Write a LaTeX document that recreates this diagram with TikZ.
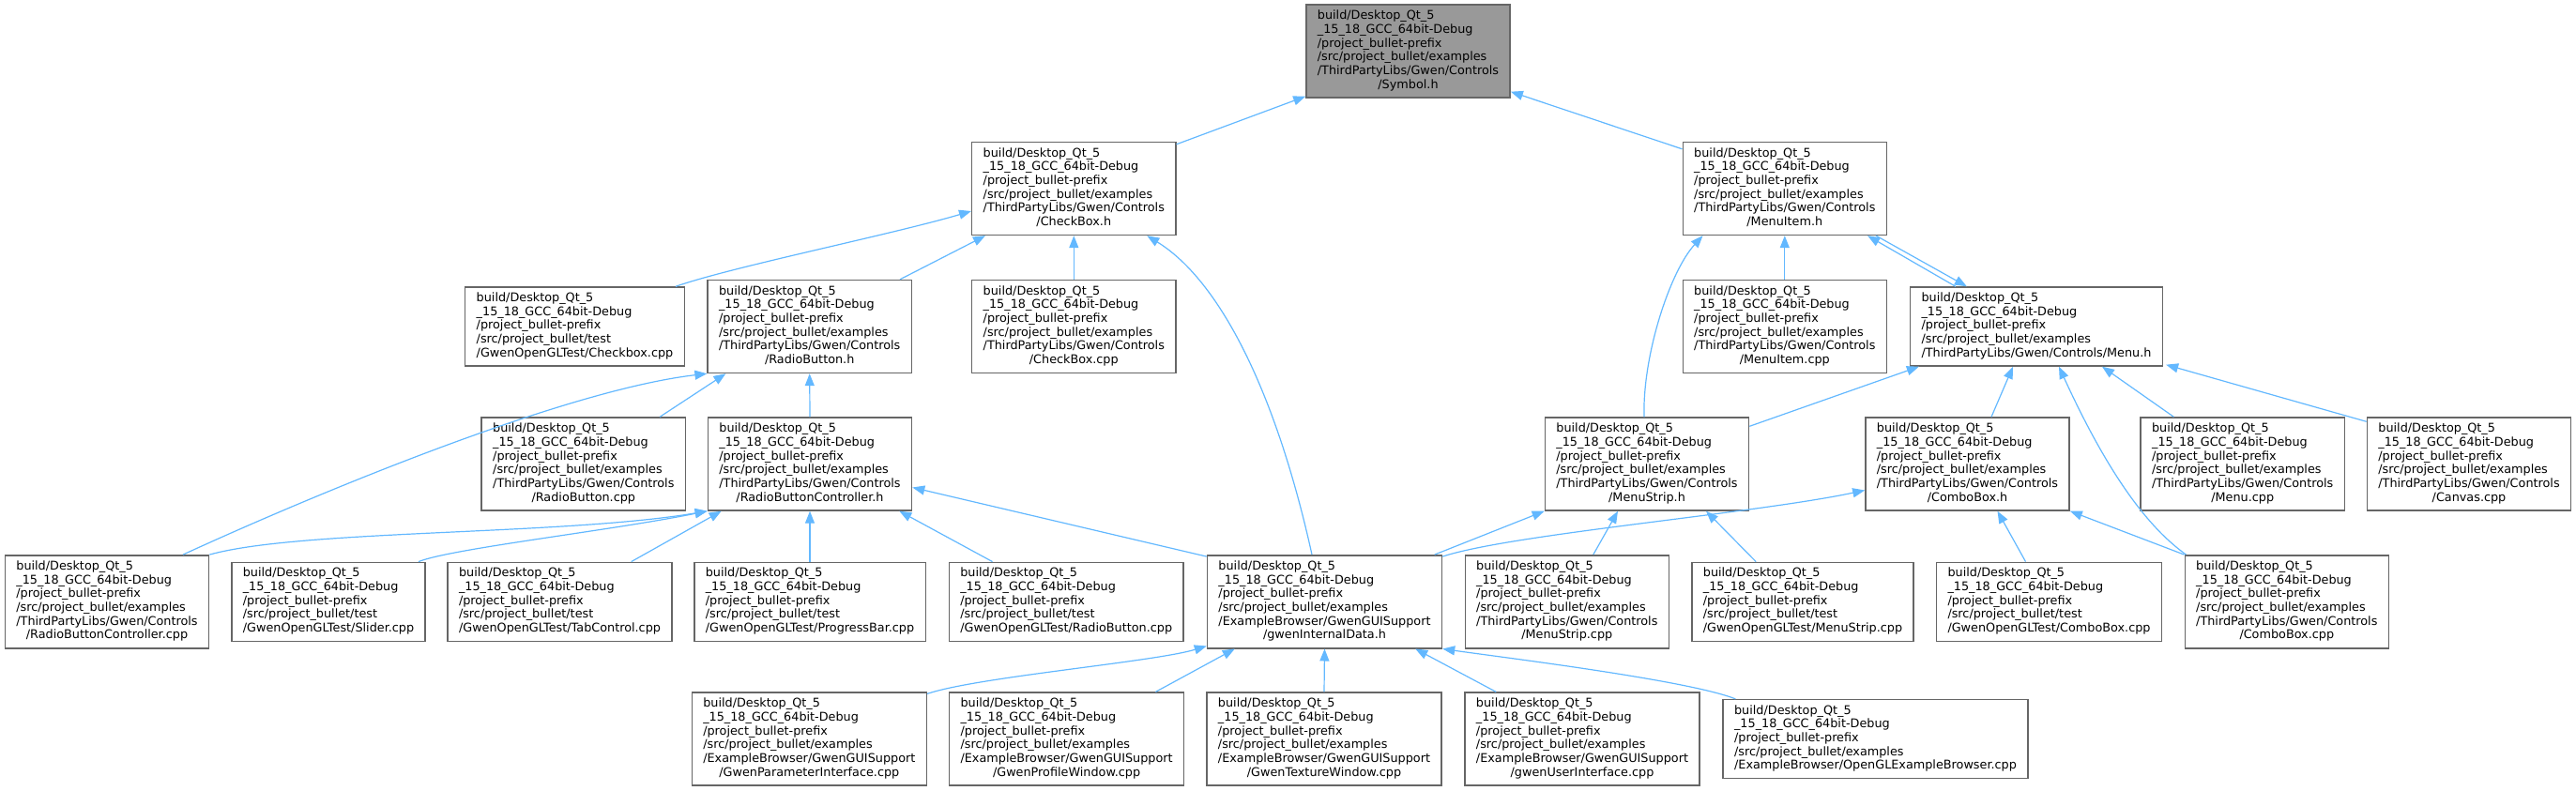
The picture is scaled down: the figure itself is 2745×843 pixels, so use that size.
\documentclass[tikz,border=0pt]{standalone}
\usepackage{fontspec}
\setmainfont{DejaVu Sans}
\usetikzlibrary{arrows.meta,calc}
\definecolor{edgec}{HTML}{63B8FF}
\definecolor{bordc}{HTML}{666666}
\definecolor{symf}{HTML}{999999}
\newcommand{\hd}{build/Desktop\_Qt\_5\\\_15\_18\_GCC\_64bit-Debug\\/project\_bullet-prefix\\}
\newcommand{\ctl}{/src/project\_bullet/examples\\/ThirdPartyLibs/Gwen/Controls}
\newcommand{\gws}{/src/project\_bullet/examples\\/ExampleBrowser/GwenGUISupport}
\newcommand{\nlab}[2]{\begin{tabular}{@{}l@{}}\hd #1\\\multicolumn{1}{@{}c@{}}{#2}\end{tabular}}
\newcommand{\flab}[2]{\begin{tabular}{@{}l@{}}\hd #1\\#2\end{tabular}}
\begin{document}
\begin{tikzpicture}[x=1bp,y=-1bp,
  box/.style={draw=bordc, line width=1.4bp, fill=white, inner xsep=12bp, inner ysep=0pt,
    minimum height=99bp, font=\fontsize{12.8bp}{14.7bp}\selectfont},
  boxf/.style={box, minimum height=84bp},
  edge/.style={draw=edgec, line width=1.2bp, -{Triangle[length=13bp,width=10bp]}}]
\useasboundingbox (0,0) rectangle (2745,843);
% row 1
\node[box, fill=symf] (sym) at (1500.5,54.5) {\nlab{\ctl}{/Symbol.h}};
% row 2
\node[box] (chkh) at (1144.3,201) {\nlab{\ctl}{/CheckBox.h}};
\node[box] (mih) at (1901.8,201) {\nlab{\ctl}{/MenuItem.h}};
% row 3
\node[boxf] (chkcpptest) at (612.5,348) {\flab{/src/project\_bullet/test}{/GwenOpenGLTest/Checkbox.cpp}};
\node[box] (rbh) at (862.7,348) {\nlab{\ctl}{/RadioButton.h}};
\node[box] (chkcpp) at (1144.3,348) {\nlab{\ctl}{/CheckBox.cpp}};
\node[box] (micpp) at (1901.8,348) {\nlab{\ctl}{/MenuItem.cpp}};
\node[boxf] (menuh) at (2170,348) {\flab{/src/project\_bullet/examples}{/ThirdPartyLibs/Gwen/Controls/Menu.h}};
% row 4
\node[box] (rbcpp) at (621.8,494.5) {\nlab{\ctl}{/RadioButton.cpp}};
\node[box] (rbch) at (863,494.5) {\nlab{\ctl}{/RadioButtonController.h}};
\node[box] (msh) at (1755,494.5) {\nlab{\ctl}{/MenuStrip.h}};
\node[box] (cbh) at (2096.5,494.5) {\nlab{\ctl}{/ComboBox.h}};
\node[box] (menucpp) at (2389.7,494.5) {\nlab{\ctl}{/Menu.cpp}};
\node[box] (canvas) at (2631,494.5) {\nlab{\ctl}{/Canvas.cpp}};
% row 5
\node[box] (rbccpp) at (114,641.3) {\nlab{\ctl}{/RadioButtonController.cpp}};
\node[boxf] (slider) at (350,641.3) {\flab{/src/project\_bullet/test}{/GwenOpenGLTest/Slider.cpp}};
\node[boxf] (tab) at (596.5,641.3) {\flab{/src/project\_bullet/test}{/GwenOpenGLTest/TabControl.cpp}};
\node[boxf] (prog) at (863,641.3) {\flab{/src/project\_bullet/test}{/GwenOpenGLTest/ProgressBar.cpp}};
\node[boxf] (rbtest) at (1136.2,641.3) {\flab{/src/project\_bullet/test}{/GwenOpenGLTest/RadioButton.cpp}};
\node[box] (gid) at (1411.5,641.3) {\nlab{\gws}{/gwenInternalData.h}};
\node[box] (mscpp) at (1669.8,641.3) {\nlab{\ctl}{/MenuStrip.cpp}};
\node[boxf] (mstest) at (1921,641.3) {\flab{/src/project\_bullet/test}{/GwenOpenGLTest/MenuStrip.cpp}};
\node[boxf] (cbtest) at (2183.5,641.3) {\flab{/src/project\_bullet/test}{/GwenOpenGLTest/ComboBox.cpp}};
\node[box] (cbcpp) at (2436.8,641.3) {\nlab{\ctl}{/ComboBox.cpp}};
% row 6
\node[box] (gpi) at (862.3,787.6) {\nlab{\gws}{/GwenParameterInterface.cpp}};
\node[box] (gpw) at (1136.6,787.6) {\nlab{\gws}{/GwenProfileWindow.cpp}};
\node[box] (gtw) at (1411,787.6) {\nlab{\gws}{/GwenTextureWindow.cpp}};
\node[box] (gui) at (1686,787.6) {\nlab{\gws}{/gwenUserInterface.cpp}};
\node[boxf] (ogl) at (1998.5,787.6) {\flab{/src/project\_bullet/examples}{/ExampleBrowser/OpenGLExampleBrowser.cpp}};
% edges
\draw[edge] ($(chkh.north east)+(0,3)$) -- ($(sym.south west)+(0,-2)$);
\draw[edge] ($(mih.north west)+(0,8)$) -- ($(sym.south east)+(0,-7)$);
\draw[edge] ($(chkcpptest.north east)+(-10,0)$) .. controls +(60,-21) and +(-85,25) .. ($(chkh.west)+(0,24)$);
\draw[edge] ($(rbh.north east)+(-13,0)$) -- ($(chkh.south west)+(15,0)$);
\draw[edge] (chkcpp.north) -- (chkh.south);
\draw[edge] ($(gid.north)+(-13.5,0)$) .. controls +(-38,-172) and +(78,48) .. ($(chkh.south)+(78,0)$);
\draw[edge] ($(rbccpp.north)+(81,0)$) .. controls +(135,-62) and +(-154,18) .. (rbh.south west);
\draw[edge] ($(rbcpp.north east)+(-28,0)$) -- ($(rbh.south west)+(20,0)$);
\draw[edge] (rbch.north) -- (rbh.south);
\draw[edge] (rbccpp.north east) .. controls +(97,-27) and +(-154,26) .. (rbch.south west);
\draw[edge] ($(slider.north east)+(-8,0)$) .. controls +(35,-14) and +(-104,21) .. (rbch.south west);
\draw[edge] ($(tab.north east)+(-44,0)$) -- ($(rbch.south west)+(15,0)$);
\draw[edge] (prog.north) -- (rbch.south);
\draw[edge] ($(rbtest.north west)+(47,0)$) -- ($(rbch.south east)+(-14,0)$);
\draw[edge] ($(gid.north west)+(0,2)$) -- ($(rbch.east)+(0,25)$);
\draw[edge] ($(msh.north)+(-3,0)$) .. controls +(-2,-65) and +(-35,38) .. ($(mih.south west)+(22,0)$);
\draw[edge] (micpp.north) -- (mih.south);
\draw[edge] ($(menuh.north west)+(49,0)$) -- ($(mih.south east)+(-21,0)$);
\draw[edge] ($(mih.south east)+(-12,0)$) -- ($(menuh.north west)+(61,0)$);
\draw[edge] ($(msh.north east)+(0,10)$) -- ($(menuh.south west)+(10,0)$);
\draw[edge] ($(cbh.north)+(25.5,0)$) -- ($(menuh.south)+(-25,0)$);
\draw[edge] ($(cbcpp.north west)+(2,0)$) .. controls +(-45,-32) and +(48,105) .. ($(menuh.south)+(24,0)$);
\draw[edge] ($(menucpp.north west)+(36,0)$) -- ($(menuh.south)+(70,0)$);
\draw[edge] ($(canvas.north west)+(0,5)$) -- ($(menuh.south east)+(3,-2)$);
\draw[edge] ($(gid.north east)+(-8.6,0)$) -- (msh.south west);
\draw[edge] ($(mscpp.north)+(28,0)$) -- ($(msh.south)+(-31,0)$);
\draw[edge] ($(mstest.north west)+(69,0)$) -- ($(msh.south)+(63,0)$);
\draw[edge] ($(gid.north east)+(0,2)$) .. controls +(73,-24) and +(-118,25) .. ($(cbh.west)+(0,28)$);
\draw[edge] ($(cbtest.north)+(-25,0)$) -- ($(cbh.south)+(32,0)$);
\draw[edge] (cbcpp.north west) -- (cbh.south east);
\draw[edge] ($(gpi.north east)+(0,2)$) .. controls +(53,-18) and +(-56,17) .. ($(gid.south west)+(0,-3)$);
\draw[edge] ($(gpw.north east)+(-31,0)$) -- ($(gid.south west)+(30,0)$);
\draw[edge] (gtw.north) -- (gid.south);
\draw[edge] ($(gui.north west)+(34,0)$) -- ($(gid.south east)+(-29,0)$);
\draw[edge] ($(ogl.north west)+(14,0)$) .. controls +(-50,-20) and +(63,9) .. (gid.south east);
\end{tikzpicture}
\end{document}
